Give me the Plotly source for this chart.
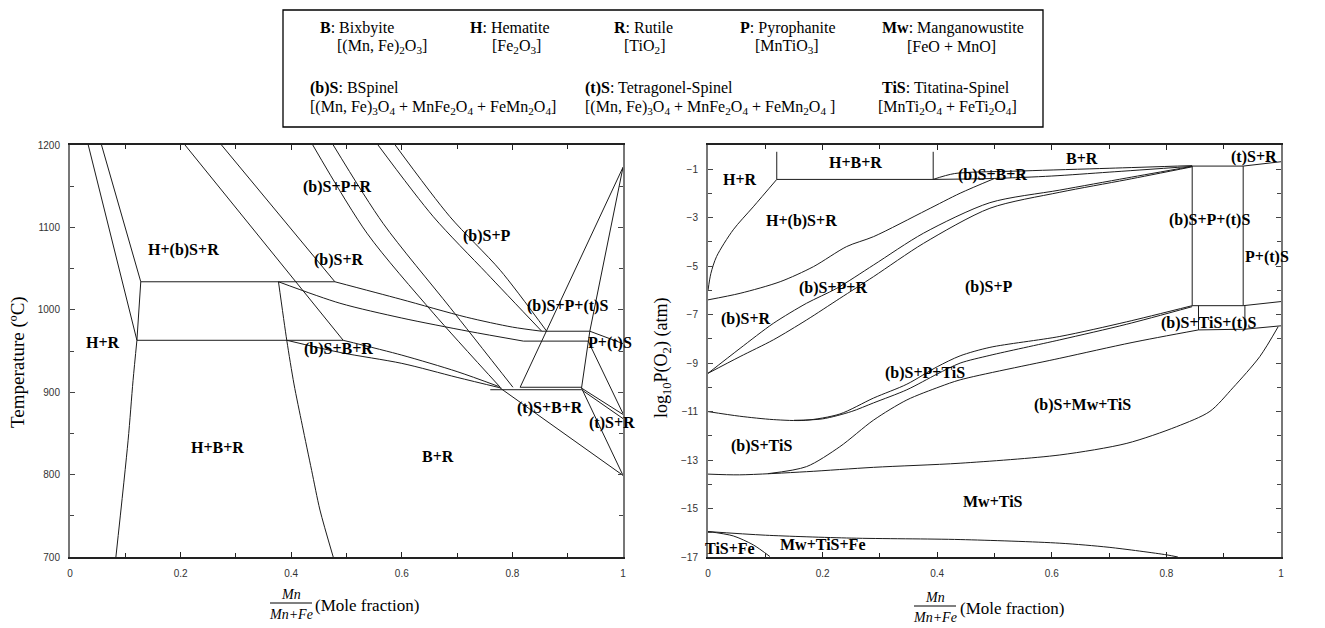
import plotly.graph_objects as go

# ---------------- Left diagram: Temperature vs Mn/(Mn+Fe) ----------------
T_HR_upper = [(0.033, 1200), (0.121, 963)]
T_HR_lower = [(0.121, 963), (0.114, 914), (0.105, 841), (0.083, 700)]
T_HbSR_left = [(0.057, 1200), (0.128, 1034), (0.121, 963)]
T_iso1034 = [(0.128, 1034), (0.479, 1034)]
T_iso963 = [(0.121, 963), (0.494, 963)]
T_bSR_top1 = [(0.274, 1200), (0.479, 1034)]
T_bSR_top2 = [(0.208, 1200), (0.494, 963)]
T_HBR_right = [(0.377, 1034), (0.392, 963), (0.405, 910), (0.42, 860), (0.437, 805), (0.452, 757), (0.476, 700)]
T_curve_L1 = [(0.377, 1034), (0.488, 1008), (0.6, 990), (0.72, 974), (0.82, 962)]
T_curve_L2 = [(0.479, 1034), (0.597, 1013), (0.717, 991), (0.80, 979), (0.853, 974)]
T_bSPR_1 = [(0.439, 1200), (0.537, 1093), (0.657, 996), (0.778, 906)]
T_bSPR_2 = [(0.476, 1200), (0.566, 1105), (0.687, 1003), (0.801, 906)]
T_bSP_1 = [(0.557, 1200), (0.657, 1113), (0.754, 1044), (0.853, 974)]
T_bSP_2 = [(0.588, 1200), (0.687, 1113), (0.778, 1048), (0.862, 974)]
T_bSBR_low = [(0.392, 963), (0.49, 948), (0.6, 935), (0.7, 918), (0.78, 905)]
T_bSBR_up = [(0.494, 963), (0.6, 945), (0.7, 925), (0.775, 907)]
T_iso974 = [(0.853, 974), (0.940, 974)]
T_iso962 = [(0.82, 962), (0.937, 962)]
T_iso906 = [(0.814, 906), (0.925, 906)]
T_iso903 = [(0.76, 903), (0.925, 903)]
T_diag1 = [(1.0, 1173), (0.814, 906)]
T_diag2 = [(1.0, 1173), (0.94, 974), (0.925, 905)]
T_PtS_1 = [(0.940, 974), (1.0, 959)]
T_PtS_2 = [(0.937, 962), (1.0, 874)]
T_tSR_1 = [(0.925, 905), (1.0, 873)]
T_tSR_2 = [(0.925, 903), (1.0, 868)]
T_tSR_3 = [(0.925, 905), (1.0, 799)]
T_tSBR_low = [(0.778, 905), (1.0, 799)]

# straight boundaries (corners kept) and smooth boundaries (drawn as splines)
left_straight = [T_HR_upper, T_HbSR_left, T_iso1034, T_iso963, T_bSR_top1, T_bSR_top2,
                 T_iso974, T_iso962, T_iso906, T_iso903, T_diag1, T_diag2,
                 T_PtS_1, T_PtS_2, T_tSR_1, T_tSR_2, T_tSR_3, T_tSBR_low]
left_smooth = [T_HR_lower, T_HBR_right, T_curve_L1, T_curve_L2, T_bSPR_1, T_bSPR_2,
               T_bSP_1, T_bSP_2, T_bSBR_low, T_bSBR_up]

left_labels = ["H+(b)S+R", "H+R", "(b)S+P+R", "(b)S+R", "(b)S+P", "(b)S+P+(t)S", "P+(t)S",
               "(b)S+B+R", "(t)S+B+R", "(t)S+R", "H+B+R", "B+R"]
left_label_pos = [(0.206, 1072), (0.060, 960), (0.483, 1149), (0.486, 1060), (0.754, 1090),
                  (0.899, 1005), (0.976, 960), (0.485, 953), (0.868, 881), (0.98, 863),
                  (0.266, 833), (0.665, 822)]

# ---------------- Right diagram: log10 P(O2) vs Mn/(Mn+Fe) ----------------
P_HR = [(0, -6.0), (0.005, -5.3), (0.015, -4.6), (0.044, -3.5), (0.079, -2.55), (0.12, -1.42)]
P_HBR_v1 = [(0.12, -1.42), (0.12, -0.28)]
P_HBR_v2 = [(0.393, -1.42), (0.393, -0.28)]
P_HBR_h = [(0.12, -1.42), (0.393, -1.42)]
P_BR_low = [(0.393, -1.42), (0.43, -1.18), (0.55, -1.07), (0.7, -0.96), (0.845, -0.85)]
P_bSBR_low = [(0.393, -1.42), (0.5, -1.38), (0.6, -1.28), (0.7, -1.12), (0.845, -0.88)]
P_bSR_up = [(0, -6.39), (0.056, -6.12), (0.126, -5.64), (0.184, -5.02), (0.242, -4.19),
            (0.289, -3.78), (0.382, -2.68), (0.44, -1.99), (0.5, -1.38)]
P_bSPR_up = [(0, -9.42), (0.056, -8.39), (0.114, -7.36), (0.172, -6.53), (0.225, -5.91),
             (0.289, -4.95), (0.376, -3.64), (0.492, -2.38), (0.614, -1.86), (0.731, -1.36), (0.845, -0.88)]
P_bSPR_low = [(0, -9.42), (0.056, -8.73), (0.114, -8.04), (0.172, -7.22), (0.230, -6.33),
              (0.289, -5.43), (0.376, -4.06), (0.492, -2.61), (0.614, -1.95), (0.731, -1.43), (0.845, -0.9)]
P_box1_top = [(0.845, -0.87), (0.934, -0.87), (1.0, -0.69)]
P_box1_left = [(0.845, -0.87), (0.845, -6.63)]
P_box1_right = [(0.934, -0.87), (0.934, -6.63)]
P_box1_bottom = [(0.845, -6.63), (0.934, -6.63), (1.0, -6.46)]
P_box2_left = [(0.856, -6.63), (0.856, -7.63)]
P_box2_right = [(0.937, -6.63), (0.937, -7.6)]
P_box2_bottom = [(0.856, -7.63), (0.937, -7.6), (1.0, -7.46)]
P_bSPTiS_up = [(0, -11.0), (0.055, -11.19), (0.114, -11.33), (0.17, -11.36), (0.23, -11.1),
               (0.289, -10.44), (0.347, -9.87), (0.4, -9.15), (0.44, -8.7), (0.492, -8.35),
               (0.614, -7.9), (0.73, -7.3), (0.845, -6.63)]
P_bSPTiS_low = [(0.15, -11.36), (0.2, -11.3), (0.25, -11.0), (0.289, -10.64), (0.347, -10.1),
                (0.4, -9.45), (0.44, -9.0), (0.492, -8.68), (0.614, -8.04), (0.73, -7.4), (0.845, -6.67)]
P_bSMwTiS_up = [(0.105, -13.56), (0.172, -13.27), (0.230, -12.45), (0.289, -11.35), (0.347, -10.52),
                (0.405, -9.97), (0.44, -9.69), (0.614, -8.8), (0.74, -8.15), (0.856, -7.63)]
P_MwTiS_up = [(0, -13.58), (0.055, -13.61), (0.172, -13.48), (0.289, -13.30), (0.44, -13.13),
              (0.614, -12.79), (0.731, -12.31), (0.818, -11.62), (0.876, -10.99), (0.916, -10.02),
              (0.963, -8.73), (0.995, -7.5)]
P_MwTiSFe_up = [(0, -15.95), (0.1, -16.1), (0.25, -16.22), (0.44, -16.28), (0.614, -16.43),
                (0.7, -16.6), (0.8, -16.91), (0.82, -17.0)]
P_TiSFe = [(0, -15.95), (0.044, -16.13), (0.079, -16.5), (0.108, -16.98)]

right_straight = [P_HBR_v1, P_HBR_v2, P_HBR_h, P_box1_top, P_box1_left, P_box1_right,
                  P_box1_bottom, P_box2_left, P_box2_right, P_box2_bottom]
right_smooth = [P_HR, P_BR_low, P_bSBR_low, P_bSR_up, P_bSPR_up, P_bSPR_low, P_bSPTiS_up,
                P_bSPTiS_low, P_bSMwTiS_up, P_MwTiS_up, P_MwTiSFe_up, P_TiSFe]

right_labels = ["H+B+R", "H+R", "H+(b)S+R", "(b)S+P+R", "(b)S+R", "(b)S+P+TiS", "(b)S+P",
                "(b)S+B+R", "B+R", "(t)S+R", "(b)S+P+(t)S", "P+(t)S", "TiS+(t)S", "(b)S+TiS+(t)S",
                "(b)S+Mw+TiS", "Mw+TiS", "(b)S+TiS", "TiS+Fe", "Mw+TiS+Fe"]
right_label_pos = [(0.257, -0.74), (0.056, -1.44), (0.164, -3.14), (0.218, -5.90), (0.066, -7.18),
                   (0.379, -9.41), (0.490, -5.86), (0.496, -1.24), (0.653, -0.54), (0.953, -0.50),
                   (0.876, -3.09), (0.976, -4.62), (1.002, -6.89), (0.873, -7.34), (0.654, -10.73),
                   (0.497, -14.73), (0.094, -12.42), (0.038, -16.63), (0.201, -16.50)]

# ---------------- Legend box text ----------------
legend_titles = ["<b>B</b>: Bixbyite", "<b>H</b>: Hematite", "<b>R</b>: Rutile",
                 "<b>P</b>: Pyrophanite", "<b>Mw</b>: Manganowustite",
                 "<b>(b)S</b>: BSpinel", "<b>(t)S</b>: Tetragonel-Spinel", "<b>TiS</b>: Titatina-Spinel"]
legend_formulas = ["[(Mn, Fe)<sub>2</sub>O<sub>3</sub>]", "[Fe<sub>2</sub>O<sub>3</sub>]",
                   "[TiO<sub>2</sub>]", "[MnTiO<sub>3</sub>]", "[FeO + MnO]",
                   "[(Mn, Fe)<sub>3</sub>O<sub>4</sub> + MnFe<sub>2</sub>O<sub>4</sub> + FeMn<sub>2</sub>O<sub>4</sub>]",
                   "[(Mn, Fe)<sub>3</sub>O<sub>4</sub> + MnFe<sub>2</sub>O<sub>4</sub> + FeMn<sub>2</sub>O<sub>4</sub> ]",
                   "[MnTi<sub>2</sub>O<sub>4</sub> + FeTi<sub>2</sub>O<sub>4</sub>]"]

x_ticks = [0, 0.2, 0.4, 0.6, 0.8, 1]
x_ticklabels = ["0", "0.2", "0.4", "0.6", "0.8", "1"]
T_ticks = [700, 800, 900, 1000, 1100, 1200]
P_ticks = [-1, -3, -5, -7, -9, -11, -13, -15, -17]

# ---------------- layout helpers ----------------
# the page body adds an 8 px margin, so the figure is drawn 8 px smaller and
# screen positions are converted with that offset
OFF = 8
W, H = 1325 - OFF, 628 - OFF
def px(x): return (x - OFF) / W
def py(y): return 1 - (y - OFF) / H

SERIF = "Liberation Serif"
LINE_COLOR = "#1c1c1c"

fig = go.Figure()
def add_lines(segs, xa, ya, smooth):
    for seg in segs:
        line = dict(color=LINE_COLOR, width=1)
        if smooth:
            line.update(shape="spline", smoothing=0.8)
        fig.add_trace(go.Scatter(x=[p[0] for p in seg], y=[p[1] for p in seg], mode="lines",
                                 line=line, xaxis=xa, yaxis=ya, showlegend=False, hoverinfo="skip"))

add_lines(left_straight, "x", "y", False)
add_lines(left_smooth, "x", "y", True)
add_lines(right_straight, "x2", "y2", False)
add_lines(right_smooth, "x2", "y2", True)

ann = []
for txt, (x, y) in zip(left_labels, left_label_pos):
    ann.append(dict(text="<b>%s</b>" % txt, x=x, y=y, xref="x", yref="y", showarrow=False,
                    xanchor="center", yanchor="middle",
                    font=dict(family=SERIF, size=16, color="black")))
for txt, (x, y) in zip(right_labels, right_label_pos):
    ann.append(dict(text="<b>%s</b>" % txt, x=x, y=y, xref="x2", yref="y2", showarrow=False,
                    xanchor="center", yanchor="middle",
                    font=dict(family=SERIF, size=16, color="black")))

# legend box texts
LEG_SIZE = 16
title_pos = [(318, 28), (468, 28), (612, 28), (738, 28), (880, 28), (308, 88), (583, 88), (880, 88)]
formula_pos = [(335, 47), (490, 47), (622, 47), (753, 47), (905, 47), (308, 108), (583, 108), (876, 108)]
for txt, (x, y) in zip(legend_titles, title_pos):
    ann.append(dict(text=txt, x=px(x), y=py(y), xref="paper", yref="paper", xanchor="left",
                    yanchor="middle", showarrow=False,
                    font=dict(family=SERIF, size=LEG_SIZE, color="black")))
for txt, (x, y) in zip(legend_formulas, formula_pos):
    ann.append(dict(text=txt, x=px(x), y=py(y), xref="paper", yref="paper", xanchor="left",
                    yanchor="middle", showarrow=False,
                    font=dict(family=SERIF, size=LEG_SIZE, color="black")))

# axis titles
ann.append(dict(text="Temperature (ºC)", x=px(18), y=py(362), xref="paper", yref="paper",
                xanchor="center", yanchor="middle", textangle=-90, showarrow=False,
                font=dict(family=SERIF, size=19, color="black")))
ann.append(dict(text="log<sub>10</sub>P(O<sub>2</sub>) (atm)", x=px(662), y=py(358), xref="paper",
                yref="paper", xanchor="center", yanchor="middle", textangle=-90, showarrow=False,
                font=dict(family=SERIF, size=18, color="black")))

shapes = [dict(type="rect", xref="paper", yref="paper", x0=px(283), x1=px(1043), y0=py(127), y1=py(10),
               line=dict(color="black", width=1.3))]
for cx, ybar, xt in [(291, 603, 313), (935, 606, 958)]:
    ann.append(dict(text="<i>Mn</i>", x=px(cx), y=py(ybar - 9), xref="paper", yref="paper",
                    xanchor="center", yanchor="middle", showarrow=False,
                    font=dict(family=SERIF, size=14, color="black")))
    ann.append(dict(text="<i>Mn+Fe</i>", x=px(cx), y=py(ybar + 11), xref="paper", yref="paper",
                    xanchor="center", yanchor="middle", showarrow=False,
                    font=dict(family=SERIF, size=14, color="black")))
    ann.append(dict(text="(Mole fraction)", x=px(xt), y=py(ybar + 2), xref="paper", yref="paper",
                    xanchor="left", yanchor="middle", showarrow=False,
                    font=dict(family=SERIF, size=17, color="black")))
    shapes.append(dict(type="line", xref="paper", yref="paper", x0=px(cx - 21), x1=px(cx + 21),
                       y0=py(ybar), y1=py(ybar), line=dict(color="black", width=1)))

tickfont = dict(family="Liberation Sans", size=10, color="#333")
xcommon = dict(range=[0, 1], tickvals=x_ticks, ticktext=x_ticklabels, ticks="inside", ticklen=5,
               tickcolor="#222", showline=True, linecolor="#222", linewidth=2, mirror="allticks",
               showgrid=False, zeroline=False, tickfont=tickfont, ticklabelstandoff=6, automargin=False,
               minor=dict(dtick=0.1, tick0=0, ticks="inside", ticklen=4, tickcolor="#222"))
ycommon = dict(ticks="inside", ticklen=5, tickcolor="#444", showline=True, linecolor="#777",
               linewidth=2, mirror="allticks", showgrid=False, zeroline=False, tickfont=tickfont,
               ticklabelstandoff=6, automargin=False)

fig.update_layout(
    width=W, height=H, margin=dict(l=0, r=0, t=0, b=0, autoexpand=False),
    paper_bgcolor="white", plot_bgcolor="white",
    xaxis=dict(domain=[px(70), px(623)], anchor="y", **xcommon),
    yaxis=dict(domain=[py(557), py(145)], anchor="x", range=[700, 1200], tickvals=T_ticks,
               minor=dict(dtick=50, tick0=700, ticks="inside", ticklen=4, tickcolor="#444"), **ycommon),
    xaxis2=dict(domain=[px(708), px(1281)], anchor="y2", **xcommon),
    yaxis2=dict(domain=[py(557), py(145)], anchor="x2", range=[-17, 0], tickvals=P_ticks,
                minor=dict(dtick=1, tick0=0, ticks="inside", ticklen=4, tickcolor="#444"), **ycommon),
    annotations=ann, shapes=shapes, showlegend=False,
)

fig.write_html("out.html")
